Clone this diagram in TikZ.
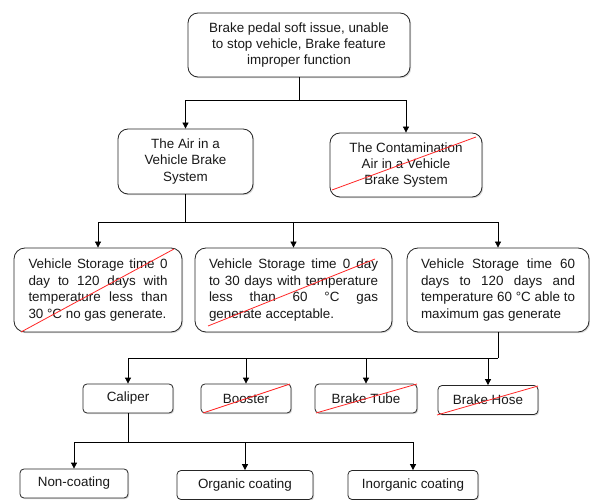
\documentclass[tikz,border=0pt]{standalone}
\usepackage{fontspec}
\setmainfont{Liberation Sans}
\usetikzlibrary{arrows.meta,shadows}
\begin{document}
\begin{tikzpicture}[x=1pt,y=-1pt,
  every node/.style={font=\fontsize{13.4}{16.4}\selectfont, text=black!90},
  box/.style={draw=black!85, line width=0.8pt, fill=white, rounded corners=#1,
    drop shadow={opacity=0.3, shadow xshift=1.2pt, shadow yshift=-1.2pt},
    inner sep=0pt, align=center},
  box/.default=9pt,
  jbox/.style={box=11pt, align=justify, minimum height=84pt},
  conn/.style={line width=0.8pt, -{Triangle[length=6pt,width=6pt]}},
  link/.style={line width=0.8pt},
  strike/.style={red!85!white, line width=0.8pt}
]
\useasboundingbox (0,0) rectangle (590,500);

\node[box=10pt, minimum width=222pt, minimum height=64pt] (top) at (299,45)
  {Brake pedal soft issue, unable\\to stop vehicle, Brake feature\\improper function};
\node[box=10pt, minimum width=135pt, minimum height=65pt] (air) at (185.5,161.5)
  {The Air in a\\Vehicle Brake\\System};
\node[box=10pt, minimum width=152pt, minimum height=64pt] (cont) at (406,165)
  {The Contamination\\Air in a Vehicle\\Brake System};

\node[jbox, minimum width=168pt, text width=139pt] (b1) at (98,290)
  {\tolerance=10000\hbadness=10000 Vehicle Storage time 0\linebreak day to 120 days with\linebreak temperature less than\linebreak 30 °C no gas generate.};
\node[jbox, minimum width=197pt, text width=169pt] (b2) at (293.5,290)
  {\tolerance=10000\hbadness=10000 Vehicle Storage time 0 day\linebreak to 30 days with temperature\linebreak less than 60 °C gas\linebreak generate acceptable.};
\node[jbox, minimum width=182pt, text width=154pt] (b3) at (498,290)
  {\tolerance=10000\hbadness=10000 Vehicle Storage time 60\linebreak days to 120 days and\linebreak temperature 60 °C able to\linebreak maximum gas generate};

\node[box=4pt, minimum width=90pt, minimum height=29pt] (cal) at (128,398.5) {Caliper};
\node[box=4pt, minimum width=90pt, minimum height=29pt] (boo) at (246,398.5) {Booster};
\node[box=4pt, minimum width=102pt, minimum height=29pt] (tube) at (366,398.5) {Brake Tube};
\node[box=4pt, minimum width=100pt, minimum height=29pt] (hose) at (488,400) {Brake Hose};

\node[box=4pt, minimum width=108pt, minimum height=29pt] (non) at (74,483.5) {Non-coating};
\node[box=4pt, minimum width=136pt, minimum height=29pt] (org) at (245,485) {Organic coating};
\node[box=4pt, minimum width=130pt, minimum height=29pt] (inorg) at (413,485) {Inorganic coating};

\draw[link] (top.south) -- (top.south |- 0,100) coordinate (j1);
\draw[conn] (j1) -| (air.north);
\draw[conn] (j1) -| (cont.north);

\draw[link] (air.south) -- (air.south |- 0,222) coordinate (j2);
\draw[conn] (j2) -| (b1.north);
\draw[conn] (j2) -| (b3.north);
\draw[conn] (b2.north |- j2) -- (b2.north);

\draw[link] (b3.south) -- (b3.south |- 0,358) coordinate (j3);
\draw[conn] (j3) -| (cal.north);
\draw[conn] (boo.north |- j3) -- (boo.north);
\draw[conn] (tube.north |- j3) -- (tube.north);
\draw[conn] (hose.north |- j3) -- (hose.north);

\draw[link] (cal.south) -- (cal.south |- 0,442) coordinate (j4);
\draw[conn] (j4) -| (non.north);
\draw[conn] (j4) -| (inorg.north);
\draw[conn] (org.north |- j4) -- (org.north);

\draw[strike] (332,190) -- (476,137);
\draw[strike] (21,332) -- (174,249);
\draw[strike] (208,326) -- (375,259);
\draw[strike] (203,413) -- (290,384);
\draw[strike] (316,413) -- (417,384);
\draw[strike] (437,415) -- (538,386);
\end{tikzpicture}
\end{document}
